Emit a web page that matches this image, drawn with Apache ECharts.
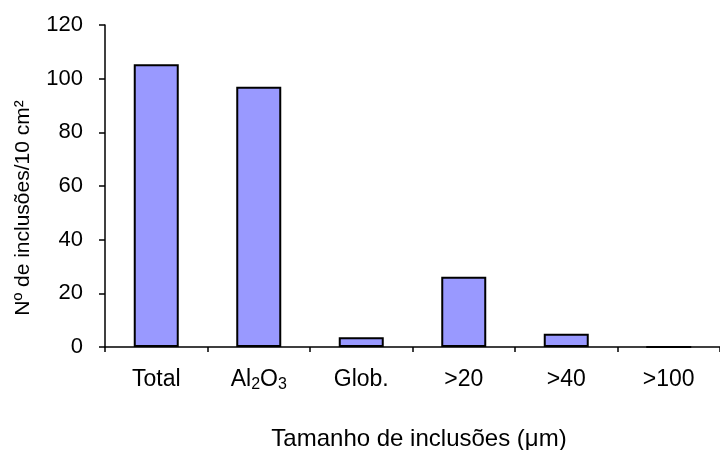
<!DOCTYPE html>
<html>
<head>
<meta charset="utf-8">
<script src="https://cdn.jsdelivr.net/npm/echarts@6/dist/echarts.min.js"></script>
<style>
html,body{margin:0;padding:0;background:#fff;}
#c{width:720px;height:450px;}
</style>
</head>
<body>
<div id="c"></div>
<script>
var categories = ['Total', 'Al{sub|2}O{sub|3}', 'Glob.', '>20', '>40', '>100'];
var values = [105.4, 97.0, 3.6, 26.2, 4.9, 0];
var yTicks = {min: 0, max: 120, interval: 20};
var xTitle = 'Tamanho de inclusões (μm)';
var yTitle = 'Nº de inclusões/10 cm²';

var FONT = '"Liberation Sans", Arial, sans-serif';
var chart = echarts.init(document.getElementById('c'), null, {renderer: 'canvas'});
chart.setOption({
  animation: false,
  backgroundColor: '#ffffff',
  grid: {left: 105, top: 25, width: 624, bottom: 103, containLabel: false},
  xAxis: {
    type: 'category',
    data: categories,
    boundaryGap: true,
    axisLine: {lineStyle: {color: '#000', width: 1.5}},
    axisTick: {show: true, length: 5, inside: false, lineStyle: {color: '#000', width: 1.5}},
    axisLabel: {
      margin: 20, color: '#000', fontFamily: FONT, fontSize: 23, lineHeight: 26, interval: 0,
      rich: {sub: {fontSize: 16, lineHeight: 16, fontFamily: FONT, color: '#000', verticalAlign: 'bottom'}}
    }
  },
  yAxis: {
    type: 'value',
    min: yTicks.min, max: yTicks.max, interval: yTicks.interval,
    splitLine: {show: false},
    axisLine: {show: true, lineStyle: {color: '#000', width: 1.5}},
    axisTick: {show: true, length: 6, inside: false, lineStyle: {color: '#000', width: 1.5}},
    axisLabel: {margin: 22, color: '#000', fontFamily: FONT, fontSize: 22}
  },
  graphic: [
    {type: 'text', left: null, x: 419, y: 439,
     style: {text: xTitle, fill: '#000', font: '24px ' + FONT, textAlign: 'center', textVerticalAlign: 'middle'}},
    {type: 'text', x: 23, y: 208, rotation: Math.PI / 2,
     style: {text: yTitle, fill: '#000', font: '21px ' + FONT, textAlign: 'center', textVerticalAlign: 'middle'}}
  ],
  series: [{
    type: 'bar',
    data: values,
    barWidth: 45,
    itemStyle: {color: '#9999FF', borderColor: '#000', borderWidth: 2}
  }]
});
</script>
</body>
</html>
